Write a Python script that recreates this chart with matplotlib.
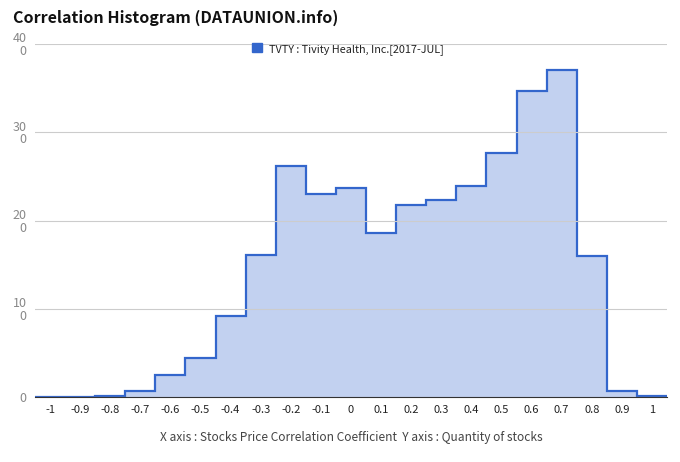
import numpy as np
import matplotlib.pyplot as plt

plt.rcParams['font.family'] = ['Noto Sans CJK KR', 'DejaVu Sans']

# Histogram data (bin centres and counts)
centers = [-1, -0.9, -0.8, -0.7, -0.6, -0.5, -0.4, -0.3, -0.2, -0.1, 0,
           0.1, 0.2, 0.3, 0.4, 0.5, 0.6, 0.7, 0.8, 0.9, 1]
counts = [0, 0, 1.5, 6.4, 25, 44.5, 92, 161, 262, 230, 237,
          186, 218, 223, 239, 277, 347, 371, 160, 7, 1.5]
yticks = [0, 100, 200, 300, 400]
ytick_labels = ["0", "10\n0", "20\n0", "30\n0", "40\n0"]
xticks = centers
xtick_labels = ["-1", "-0.9", "-0.8", "-0.7", "-0.6", "-0.5", "-0.4", "-0.3", "-0.2", "-0.1", "0",
                "0.1", "0.2", "0.3", "0.4", "0.5", "0.6", "0.7", "0.8", "0.9", "1"]

c = np.array(centers)
edges = np.append(c - 0.05, c[-1] + 0.05)

fig = plt.figure(figsize=(6.8, 4.62), dpi=100)
ax = fig.add_axes([35/680, 1 - 397/462, 632/680, 353/462])

ax.stairs(counts, edges, fill=True, color='#c2d1f0', baseline=0)
ax.stairs(counts, edges, color='#3366cc', linewidth=1.6, baseline=None)

ax.set_xlim(-1.05, 1.05)
ax.set_ylim(0, 400)
ax.set_yticks(yticks)
ax.set_yticklabels(ytick_labels, color='#888888', fontsize=9, linespacing=0.95)
ax.set_xticks(xticks)
ax.set_xticklabels(xtick_labels, color='#222222', fontsize=8)
ax.tick_params(axis='y', length=0, pad=6)
ax.tick_params(axis='x', length=0, pad=6)
ax.grid(axis='y', color='#cccccc', linewidth=0.8)
ax.set_axisbelow(False)
for s in ['top', 'right', 'left']:
    ax.spines[s].set_visible(False)
ax.spines['bottom'].set_color('#333333')
ax.spines['bottom'].set_zorder(5)

fig.text(13/680, 1 - 18/462, "Correlation Histogram (DATAUNION.info)",
         fontsize=11.5, fontweight='bold', color='#111111', va='center')

leg_handle = plt.Rectangle((0, 0), 1, 1, color='#3366cc')
ax.legend([leg_handle], ["TVTY : Tivity Health, Inc.[2017-JUL]"],
          loc='center', bbox_to_anchor=(348/680, 1 - 49/462), bbox_transform=fig.transFigure,
          frameon=False, fontsize=7.8, handlelength=0.9, handleheight=0.9, handletextpad=0.7,
          labelcolor='#222222')

fig.text(351/680, 1 - 437/462, "X axis : Stocks Price Correlation Coefficient  Y axis : Quantity of stocks",
         fontsize=8.6, color='#444444', ha='center', va='center')

fig.savefig('out.png', dpi=100)
